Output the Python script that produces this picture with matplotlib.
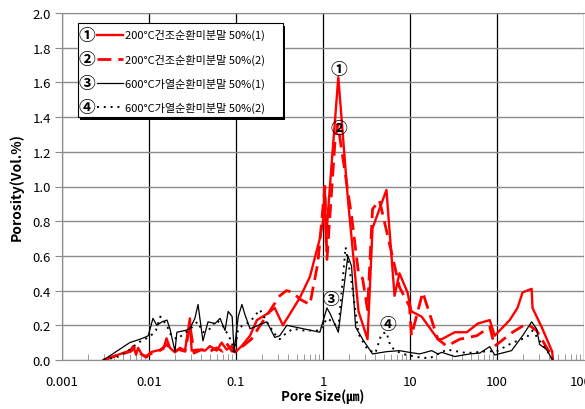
import matplotlib
matplotlib.use('Agg')
import matplotlib.pyplot as plt
from matplotlib.lines import Line2D
from matplotlib.patches import Rectangle

plt.rcParams['font.family'] = ['Noto Sans CJK KR', 'DejaVu Sans']

# pore size (um) and porosity (vol.%)
x_200_1 = [0.0030, 0.0060, 0.0066, 0.0071, 0.0075, 0.0082, 0.0094, 0.0103, 0.0123, 0.0146,
           0.0159, 0.0174, 0.0199, 0.0227, 0.0259, 0.0295, 0.0309, 0.0368, 0.0441, 0.0502,
           0.0599, 0.0683, 0.0780, 0.0891, 0.098, 0.116, 0.145, 0.174, 0.226, 0.279,
           0.346, 0.544, 0.707, 0.92, 1.0, 1.05, 1.08, 1.2, 1.5, 1.93,
           2.56, 3.25, 3.71, 5.36, 6.64, 7.57, 9.35, 10.4, 13.6, 20.9,
           23.2, 32.7, 45.0, 60.2, 82.6, 94.1, 140, 172, 197, 250,
           256, 326, 430, 440]
y_200_1 = [0.0, 0.054, 0.08, 0.03, 0.07, 0.035, 0.015, 0.044, 0.054, 0.063,
           0.125, 0.07, 0.044, 0.07, 0.054, 0.24, 0.054, 0.06, 0.054, 0.08,
           0.054, 0.10, 0.06, 0.08, 0.044, 0.08, 0.14, 0.23, 0.265, 0.30,
           0.20, 0.36, 0.48, 0.70, 0.80, 1.00, 0.68, 1.0, 1.63, 0.93,
           0.28, 0.12, 0.76, 0.98, 0.37, 0.50, 0.39, 0.28, 0.25, 0.12,
           0.12, 0.16, 0.16, 0.21, 0.23, 0.14, 0.23, 0.30, 0.39, 0.41,
           0.30, 0.19, 0.05, 0.0]

x_200_2 = [0.0030, 0.0045, 0.0062, 0.0068, 0.0078, 0.0090, 0.011, 0.013, 0.016, 0.019,
           0.022, 0.026, 0.0295, 0.033, 0.040, 0.050, 0.060, 0.070, 0.080, 0.090,
           0.100, 0.120, 0.150, 0.190, 0.250, 0.318, 0.38, 0.45, 0.544, 0.707,
           0.873, 1.05, 1.11, 1.37, 1.48, 2.13, 2.56, 2.85, 3.25, 3.71,
           4.46, 7.57, 9.86, 10.4, 14.0, 20.9, 26.5, 37.3, 58.6, 82.6,
           94.1, 151, 219, 285, 435]
y_200_2 = [0.0, 0.03, 0.05, 0.07, 0.04, 0.02, 0.04, 0.05, 0.09, 0.05,
           0.06, 0.05, 0.20, 0.04, 0.06, 0.05, 0.07, 0.05, 0.09, 0.05,
           0.06, 0.08, 0.12, 0.20, 0.29, 0.37, 0.40, 0.39, 0.35, 0.32,
           0.56, 1.00, 0.58, 1.25, 1.36, 0.83, 0.50, 0.47, 0.29, 0.87,
           0.92, 0.42, 0.31, 0.14, 0.39, 0.12, 0.08, 0.12, 0.14, 0.19,
           0.08, 0.16, 0.21, 0.17, 0.015]

x_600_1 = [0.0030, 0.0060, 0.0079, 0.0089, 0.0098, 0.0111, 0.0123, 0.0141, 0.0161, 0.0174,
           0.0199, 0.0209, 0.0259, 0.0295, 0.0337, 0.0366, 0.0417, 0.0477, 0.0574, 0.0656,
           0.0749, 0.0812, 0.0903, 0.0952, 0.106, 0.117, 0.127, 0.145, 0.226, 0.279,
           0.318, 0.384, 0.92, 1.11, 1.2, 1.5, 1.93, 2.13, 2.37, 2.85,
           3.71, 5.36, 7.57, 9.86, 12.9, 17.8, 20.9, 23.2, 32.7, 48.7,
           63.4, 82.6, 94.1, 147, 197, 250, 285, 309, 371, 435]
y_600_1 = [0.0, 0.10, 0.12, 0.13, 0.14, 0.24, 0.20, 0.22, 0.23, 0.18,
           0.05, 0.16, 0.17, 0.18, 0.24, 0.32, 0.11, 0.22, 0.21, 0.24,
           0.17, 0.28, 0.25, 0.05, 0.25, 0.32, 0.26, 0.18, 0.22, 0.13,
           0.14, 0.20, 0.16, 0.30, 0.27, 0.16, 0.60, 0.54, 0.19, 0.12,
           0.035, 0.048, 0.054, 0.044, 0.035, 0.054, 0.035, 0.044, 0.02, 0.035,
           0.04, 0.077, 0.029, 0.054, 0.14, 0.22, 0.18, 0.09, 0.06, 0.0]

x_600_2 = [0.0030, 0.0045, 0.0060, 0.0075, 0.0090, 0.0105, 0.012, 0.0135, 0.016, 0.018,
           0.021, 0.025, 0.030, 0.036, 0.042, 0.050, 0.060, 0.070, 0.080, 0.090,
           0.095, 0.106, 0.120, 0.145, 0.188, 0.226, 0.279, 0.318, 0.346, 0.45,
           0.60, 0.92, 1.11, 1.3, 1.5, 1.82, 2.13, 2.56, 3.25, 4.0,
           4.7, 5.36, 5.96, 7.0, 9.0, 12.9, 16.8, 26.5, 45.0, 76.0,
           99.0, 151, 219, 256, 309, 371, 435]
y_600_2 = [0.0, 0.02, 0.06, 0.10, 0.12, 0.14, 0.17, 0.25, 0.20, 0.14,
           0.12, 0.15, 0.18, 0.22, 0.16, 0.18, 0.23, 0.20, 0.15, 0.10,
           0.03, 0.18, 0.20, 0.22, 0.29, 0.22, 0.15, 0.12, 0.14, 0.18,
           0.17, 0.17, 0.24, 0.22, 0.18, 0.65, 0.45, 0.15, 0.06, 0.04,
           0.15, 0.16, 0.08, 0.05, 0.03, 0.015, 0.01, 0.06, 0.04, 0.05,
           0.05, 0.10, 0.13, 0.17, 0.11, 0.06, 0.0]

labels = ['200\u00b0C건조순환미분말 50%(1)', '200\u00b0C건조순환미분말 50%(2)',
          '600\u00b0C가열순환미분말 50%(1)', '600\u00b0C가열순환미분말 50%(2)']
marks = ['①', '②', '③', '④']
y_ticks = [0.0, 0.2, 0.4, 0.6, 0.8, 1.0, 1.2, 1.4, 1.6, 1.8, 2.0]
x_ticks = [0.001, 0.01, 0.1, 1, 10, 100, 1000]
x_tick_labels = ['0.001', '0.01', '0.1', '1', '10', '100', '1000']

fig = plt.figure(figsize=(5.85, 4.1), dpi=100)
ax = fig.add_axes([62 / 585, 1 - 361 / 410, 522 / 585, 347 / 410])

styles = [dict(color='#ff0000', lw=1.7, ls='-'),
          dict(color='#ff0000', lw=2.0, ls=(0, (5, 2.5))),
          dict(color='black', lw=0.9, ls='-'),
          dict(color='black', lw=1.4, ls=(0, (1, 2.5)))]
series = [(x_200_1, y_200_1), (x_200_2, y_200_2), (x_600_1, y_600_1), (x_600_2, y_600_2)]
for (xs, ys), st in zip(series, styles):
    ax.plot(xs, ys, zorder=3, **st)

ax.set_xscale('log')
ax.set_xlim(0.001, 1000)
ax.set_ylim(0, 2.0)
ax.set_yticks(y_ticks)
ax.set_yticklabels(['%.1f' % v for v in y_ticks])
ax.set_xticks(x_ticks)
ax.set_xticklabels(x_tick_labels)
ax.yaxis.grid(True, color='#8c8c8c', lw=1.0)
ax.xaxis.grid(True, which='major', color='black', lw=0.9)
ax.set_axisbelow(True)
ax.tick_params(axis='y', direction='out', length=5, color='#8c8c8c', labelsize=9.5, pad=3)
ax.tick_params(axis='x', which='major', length=0, labelsize=9.5, pad=11)
ax.tick_params(axis='x', which='minor', direction='in', length=4, color='#8c8c8c')
for s in ax.spines.values():
    s.set_color('#8c8c8c')
ax.spines['right'].set_visible(False)

ax.set_ylabel('Porosity(Vol.%)', fontsize=10, fontweight='bold', labelpad=6)
ax.set_xlabel('Pore Size(㎛)', fontsize=9.5, fontweight='bold', labelpad=0)

# peak markers
mk = dict(ha='center', va='center', fontsize=12, fontweight='bold', zorder=5)
ax.text(1.5, 1.68, marks[0], **mk)
ax.text(1.52, 1.34, marks[1], **mk)
ax.text(1.22, 0.35, marks[2], **mk)
ax.text(5.5, 0.21, marks[3], **mk)

# legend box with shadow
ax.add_patch(Rectangle((0.035, 0.692), 0.392, 0.271, transform=ax.transAxes,
                       facecolor='black', edgecolor='none', zorder=6))
ax.add_patch(Rectangle((0.031, 0.700), 0.392, 0.271, transform=ax.transAxes,
                       facecolor='white', edgecolor='black', lw=0.8, zorder=7))
rows = [0.937, 0.867, 0.798, 0.729]
for i in range(4):
    yy = rows[i]
    ax.text(0.048, yy, marks[i], transform=ax.transAxes, ha='center', va='center',
            fontsize=12, fontweight='bold', zorder=8)
    ax.add_line(Line2D([0.068, 0.117], [yy, yy], transform=ax.transAxes, zorder=8, **styles[i]))
    ax.text(0.121, yy, labels[i], transform=ax.transAxes, ha='left', va='center',
            fontsize=8, zorder=8)

fig.savefig('out.png', dpi=100, facecolor='white')
